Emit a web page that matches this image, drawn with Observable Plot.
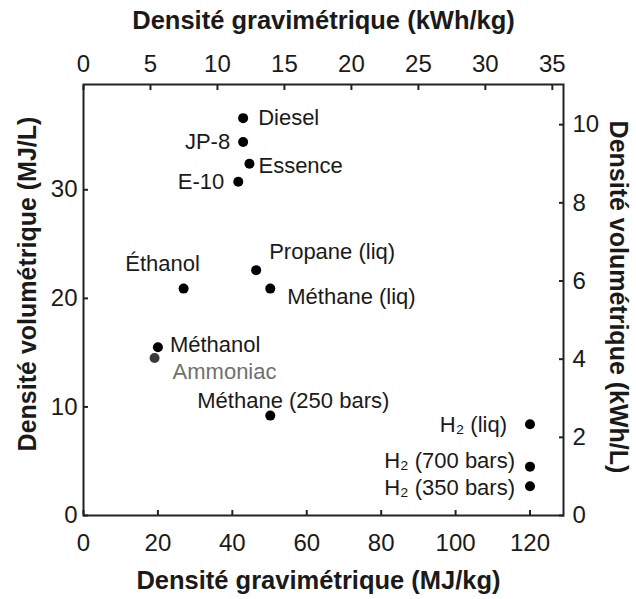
<!DOCTYPE html>
<html>
<head>
<meta charset="utf-8">
<script src="https://cdn.jsdelivr.net/npm/d3@7"></script>
<script src="https://cdn.jsdelivr.net/npm/@observablehq/plot@0.6"></script>
<style>
  html, body { margin: 0; padding: 0; background: #fff; }
  svg { display: block; }
</style>
</head>
<body>
<div id="chart"></div>
<script>
// Data (MJ/kg and MJ/L)
const fuels = ["Diesel", "JP-8", "Essence", "E-10", "Éthanol", "Propane (liq)", "Méthane (liq)", "Méthanol", "Ammoniac", "Méthane (250 bars)", "H₂ (liq)", "H₂ (700 bars)", "H₂ (350 bars)"];
const gravimetric = [42.9, 42.9, 44.6, 41.6, 26.9, 46.4, 50.2, 20.0, 19.1, 50.2, 120, 120, 120];
const volumetric = [36.6, 34.4, 32.4, 30.75, 20.9, 22.6, 20.9, 15.5, 14.5, 9.2, 8.4, 4.5, 2.7];

// Tick labels
const ticksMJkg = [0, 20, 40, 60, 80, 100, 120];
const ticksKWhkg = [0, 5, 10, 15, 20, 25, 30, 35];
const ticksMJL = [0, 10, 20, 30];
const ticksKWhL = [0, 2, 4, 6, 8, 10];
const MJ_PER_KWH = 3.6;

// Label placement (anchor, dx, dy) per fuel
const labelPlacement = [
  ["start", 15, 0], ["end", -13, 0], ["start", 9, 2], ["end", -14, 0],
  ["middle", -21, -25], ["start", 13, -18], ["start", 17, 8], ["start", 12, -2],
  ["start", 18, 14], ["middle", 23, -15], ["end", -23, 1], ["end", -15, -6], ["end", -15, 2]
];

const data = fuels.map((name, i) => ({name, g: gravimetric[i], v: volumetric[i], place: labelPlacement[i]}));

const font = "Liberation Sans, Arial, Helvetica, sans-serif";
const ink = "#1a1a1a";

const labelMarks = data.map(d => Plot.text([d], {
  x: "g", y: "v", text: "name",
  textAnchor: d.place[0], dx: d.place[1], dy: d.place[2],
  fontSize: 22, fill: d.name === "Ammoniac" ? "#707070" : ink
}));

const chart = Plot.plot({
  width: 636,
  height: 599,
  marginLeft: 83,
  marginRight: 73,
  marginTop: 84,
  marginBottom: 84,
  style: {fontFamily: font, background: "#fff", color: ink},
  x: {domain: [0, 129], label: null},
  y: {domain: [0, 39.7], label: null},
  marks: [
    Plot.frame({stroke: "#222", strokeWidth: 2}),
    Plot.axisX({anchor: "bottom", ticks: ticksMJkg, tickSize: -5, tickPadding: 23, fontSize: 24, label: null, strokeWidth: 2, stroke: "#222"}),
    Plot.axisX({anchor: "top", ticks: ticksKWhkg.map(t => t * MJ_PER_KWH), tickFormat: t => Math.round(t / MJ_PER_KWH), tickSize: -5, tickPadding: 18, fontSize: 24, label: null, strokeWidth: 2, stroke: "#222"}),
    Plot.axisY({anchor: "left", ticks: ticksMJL, tickSize: -5, tickPadding: 11, fontSize: 24, label: null, strokeWidth: 2, stroke: "#222"}),
    Plot.axisY({anchor: "right", ticks: ticksKWhL.map(t => t * MJ_PER_KWH), tickFormat: t => Math.round(t / MJ_PER_KWH), tickSize: -5, tickPadding: 14, fontSize: 24, label: null, strokeWidth: 2, stroke: "#222"}),
    Plot.text(["Densité gravimétrique (kWh/kg)"], {frameAnchor: "top", textAnchor: "middle", lineAnchor: "middle", dy: -64, fontSize: 25.5, fontWeight: "bold", fill: ink}),
    Plot.text(["Densité gravimétrique (MJ/kg)"], {frameAnchor: "bottom", textAnchor: "middle", lineAnchor: "middle", dy: 65, dx: -5, fontSize: 25.5, fontWeight: "bold", fill: ink}),
    Plot.text(["Densité volumétrique (MJ/L)"], {frameAnchor: "left", textAnchor: "middle", lineAnchor: "middle", rotate: -90, dx: -56, dy: -16, fontSize: 25, fontWeight: "bold", fill: ink}),
    Plot.text(["Densité volumétrique (kWh/L)"], {frameAnchor: "right", textAnchor: "middle", lineAnchor: "middle", rotate: 90, dx: 54, dy: -3, fontSize: 25, fontWeight: "bold", fill: ink}),
    Plot.dot(data, {x: "g", y: "v", r: 5, fill: d => d.name === "Ammoniac" ? "#3a3a3a" : "#000", stroke: "none"}),
    ...labelMarks
  ]
});
document.getElementById("chart").append(chart);
</script>
</body>
</html>
